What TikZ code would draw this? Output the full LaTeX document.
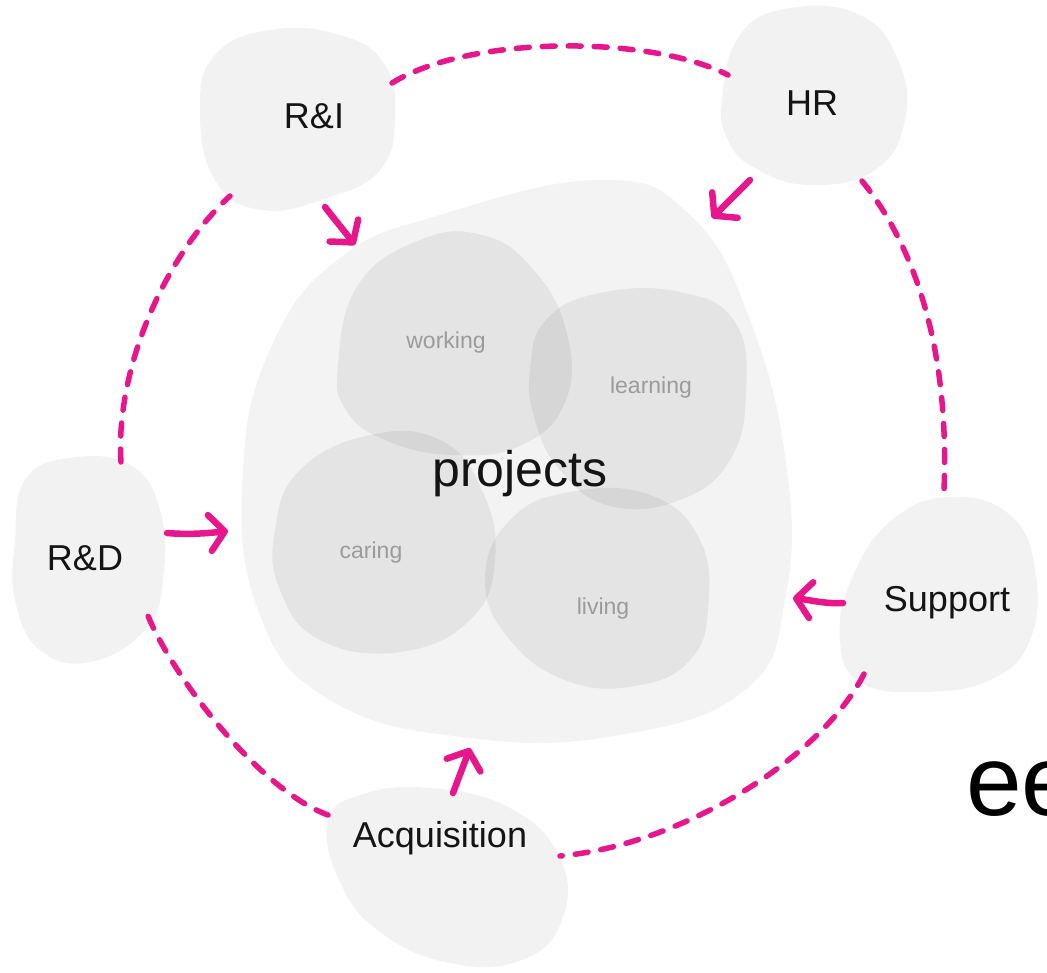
\documentclass[tikz,border=0pt]{standalone}
\usepackage{fontspec}
\setmainfont{Liberation Sans}
\usetikzlibrary{arrows.meta}
\definecolor{hotpink}{RGB}{232,22,140}
\definecolor{blobgray}{RGB}{242,242,242}
\definecolor{bigblobgray}{RGB}{243,243,243}
\definecolor{labelink}{RGB}{20,20,20}
\definecolor{subink}{RGB}{155,155,155}
\begin{document}
\begin{tikzpicture}[x=1pt,y=-1pt,
  blob/.style={fill=blobgray},
  bigblob/.style={fill=bigblobgray},
  subblob/.style={fill=black,fill opacity=0.06},
  lbl/.style={font=\fontsize{36}{42}\selectfont,text=labelink,inner sep=0pt},
  sublbl/.style={font=\fontsize{23}{28}\selectfont,text=subink,inner sep=0pt},
  ring/.style={draw=hotpink,line width=5.5pt,line cap=round,dash pattern=on 13pt off 13pt},
  flow/.style={draw=hotpink,line width=6.5pt,line cap=round,
    -{Straight Barb[length=15pt,width=36pt,line width=6.5pt,round]}},
  smoothblob/.style={smooth cycle,tension=0.75}]
\useasboundingbox (0,0) rectangle (1047,973);
\clip (0,0) rectangle (1047,973);

% central projects area
\fill[bigblob] plot[smoothblob] coordinates {(440,215) (600,180) (690,215) (750,320) (787,470) (785,600) (745,690) (620,735) (470,738) (330,700) (258,610) (243,470) (272,345) (340,258)};

% overlapping project themes
\fill[subblob] plot[smoothblob] coordinates {(338,365) (358,285) (420,240) (482,235) (532,268) (566,330) (566,400) (522,445) (452,455) (385,440) (346,410)};
\fill[subblob] plot[smoothblob] coordinates {(530,370) (546,320) (600,293) (680,292) (735,322) (746,392) (730,460) (680,500) (610,506) (560,470) (535,420)};
\fill[subblob] plot[smoothblob] coordinates {(275,530) (300,470) (370,435) (440,440) (482,490) (495,560) (470,620) (400,652) (320,640) (280,590)};
\fill[subblob] plot[smoothblob] coordinates {(485,580) (510,520) (570,492) (650,495) (700,540) (708,610) (690,660) (640,685) (570,682) (510,640)};

% surrounding departments
\fill[blob] plot[smoothblob] coordinates {(200,110) (215,55) (270,30) (340,35) (385,65) (395,120) (380,170) (330,197) (262,210) (215,180)};
\fill[blob] plot[smoothblob] coordinates {(722,100) (740,35) (790,8) (860,15) (898,60) (905,120) (875,170) (810,185) (755,168) (728,140)};
\fill[blob] plot[smoothblob] coordinates {(15,540) (25,480) (70,458) (130,465) (160,510) (163,580) (145,630) (90,662) (40,650) (15,600)};
\fill[blob] plot[smoothblob] coordinates {(840,640) (852,578) (892,520) (950,497) (1010,515) (1035,570) (1030,640) (990,680) (920,692) (860,682)};
\fill[blob] plot[smoothblob] coordinates {(328,822) (360,795) (430,788) (510,808) (560,858) (562,920) (522,960) (450,963) (380,932) (340,882)};

% labels
\node[lbl] (ri) at (314,116) {R\&I};
\node[lbl] (hr) at (812,103) {HR};
\node[lbl] (rd) at (85,558) {R\&D};
\node[lbl] (sup) at (947,603) {Support};
\node[lbl] (acq) at (440,838) {Acquisition};
\node[font=\fontsize{50}{58}\selectfont,text=labelink,inner sep=0pt] (proj) at (520,474) {projects};
\node[sublbl] (work) at (446,343) {working};
\node[sublbl] (learn) at (651,388) {learning};
\node[sublbl] (care) at (371,553) {caring};
\node[sublbl] (live) at (603,609) {living};
\node[font=\fontsize{100}{110}\selectfont,text=black,inner sep=0pt,anchor=base west] (ee) at (966,815) {ee};

% end points on the department outlines
\coordinate (ri-e) at (392,83);
\coordinate (ri-sw) at (230,196);
\coordinate (ri-s) at (325,207);
\coordinate (hr-w) at (728,75);
\coordinate (hr-se) at (862,181);
\coordinate (hr-s) at (750,180);
\coordinate (sup-n) at (944,490);
\coordinate (sup-sw) at (864,674);
\coordinate (sup-w) at (843,603);
\coordinate (acq-e) at (560,856);
\coordinate (acq-w) at (328,815);
\coordinate (acq-n) at (453,793);
\coordinate (rd-n) at (121,462);
\coordinate (rd-se) at (148,616);
\coordinate (rd-e) at (167,533);
% points on the projects outline
\coordinate (proj-nw) at (355,245);
\coordinate (proj-ne) at (712,218);
\coordinate (proj-w) at (228,531);
\coordinate (proj-e) at (793,598);
\coordinate (proj-s) at (470,748);

% dashed ring joining the departments
\draw[ring] (ri-e) .. controls (470,35) and (650,35) .. (hr-w);
\draw[ring] (hr-se) .. controls (910,240) and (950,340) .. (sup-n);
\draw[ring] (sup-sw) .. controls (820,760) and (680,845) .. (acq-e);
\draw[ring] (acq-w) .. controls (260,790) and (175,680) .. (rd-se);
\draw[ring] (rd-n) .. controls (115,370) and (165,255) .. (ri-sw);

% flows into projects
\draw[flow] (ri-s) .. controls (335,220) and (345,232) .. (proj-nw);
\draw[flow] (hr-s) -- (proj-ne);
\draw[flow] (rd-e) .. controls (190,535) and (210,533) .. (proj-w);
\draw[flow] (sup-w) .. controls (825,604) and (810,600) .. (proj-e);
\draw[flow] (acq-n) -- (proj-s);
\end{tikzpicture}
\end{document}
